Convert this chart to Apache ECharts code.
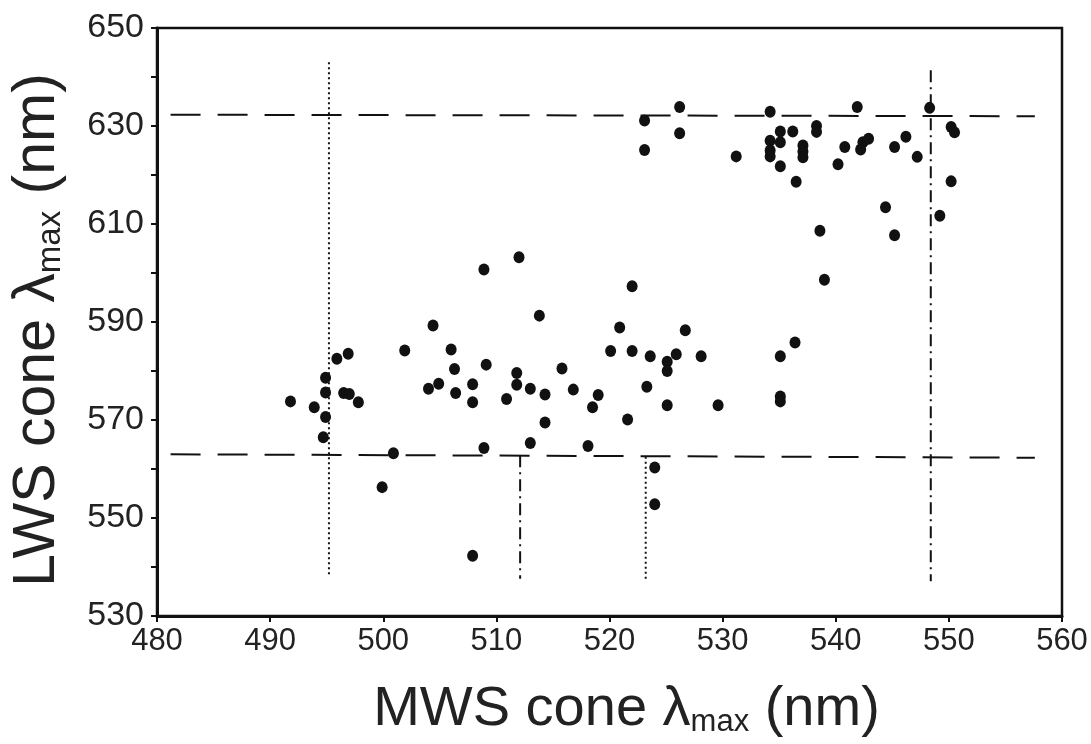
<!DOCTYPE html>
<html>
<head>
<meta charset="utf-8">
<script src="https://cdn.jsdelivr.net/npm/echarts@6/dist/echarts.min.js"></script>
<style>html,body{margin:0;padding:0;background:#fff;}#c{width:1091px;height:744px;}</style>
</head>
<body>
<div id="c"></div>
<script>
// MWS cone lambda max (x) and LWS cone lambda max (y), nm
const mwsValues = [491.8,493.9,494.9,494.9,494.9,494.7,495.9,496.9,496.5,497.0,497.8,499.9,500.9,501.9,504.4,504.0,504.9,506.0,506.3,506.4,507.9,507.9,508.9,509.1,508.9,507.9,510.9,511.8,511.8,512.0,513.0,513.0,513.8,514.3,514.3,515.8,516.8,518.1,518.5,519.0,520.1,520.9,521.6,522.0,522.0,523.1,523.1,523.6,523.3,524.0,524.0,525.1,525.1,525.1,525.9,526.2,526.2,526.7,528.1,529.6,531.2,534.2,534.2,534.2,534.2,535.1,535.1,535.1,535.1,535.1,535.1,536.2,536.5,536.4,537.1,537.1,537.1,538.3,538.3,538.6,539.0,540.2,540.8,541.9,542.2,542.4,542.9,544.4,545.2,545.2,546.2,547.2,548.3,549.2,550.2,550.5,550.2];
const lwsValues = [573.8,572.6,578.6,575.6,570.6,566.5,582.5,583.5,575.5,575.3,573.6,556.3,563.2,584.2,589.3,576.4,577.4,584.4,580.4,575.5,577.3,573.6,600.7,581.3,564.3,542.3,574.3,579.6,577.2,603.2,576.4,565.3,591.3,575.2,569.5,580.5,576.2,564.7,572.6,575.1,584.1,588.9,570.1,597.3,584.1,631.1,625.1,583.0,576.8,560.3,552.8,581.9,580.0,573.0,583.4,633.9,628.5,588.3,583.0,573.0,623.8,632.9,627.0,625.0,623.8,628.9,626.7,621.8,583.0,574.8,573.8,628.9,618.6,585.8,626.0,624.8,623.6,630.0,628.8,608.6,598.6,622.2,625.7,633.9,625.2,626.7,627.4,613.4,625.7,607.7,627.8,623.7,633.7,611.7,629.8,628.7,618.7];

// reference lines (data coordinates)
const hLineUpper = [[481.2, 632.3], [557.6, 632.0]];
const hLineLower = [[481.2, 563.0], [557.6, 562.3]];
const vLine495 = [[495.2, 643.0], [495.2, 537.9]];
const vLine512 = [[512.1, 562.8], [512.1, 537.6]];
const vLine523 = [[523.2, 562.5], [523.2, 537.6]];
const vLine548 = [[548.4, 641.4], [548.4, 537.1]];

const xTicks = {min: 480, max: 560, interval: 10};
const yTicks = {min: 530, max: 650, interval: 10, labelStep: 20};

const points = mwsValues.map((x, i) => [x, lwsValues[i]]);

function refLine(data, type, w) {
  return {
    type: 'line', data: data, symbol: 'none', silent: true, z: 1,
    lineStyle: {color: '#111', width: w, type: type}
  };
}

const chart = echarts.init(document.getElementById('c'), null, {renderer: 'canvas'});
const fam = '"Liberation Sans", Arial, sans-serif';
chart.setOption({
  backgroundColor: '#fff',
  animation: false,
  grid: {left: 155, right: 29, top: 28, bottom: 128, show: true, borderColor: '#111', borderWidth: 2.5, backgroundColor: 'transparent'},
  xAxis: {
    type: 'value', min: xTicks.min, max: xTicks.max, interval: xTicks.interval,
    axisLine: {show: true, lineStyle: {color: '#111', width: 3}},
    axisTick: {show: true, inside: false, length: 6, lineStyle: {color: '#111', width: 2}},
    axisLabel: {color: '#222', fontSize: 31, fontFamily: fam, margin: 10},
    splitLine: {show: false},
    name: '{a|MWS cone λ}{b|max}{a| (nm)}',
    nameLocation: 'middle', nameGap: 66,
    nameTextStyle: {padding: [0, 0, 0, 34], rich: {
      a: {fontSize: 56, fontFamily: fam, color: '#222'},
      b: {fontSize: 31, fontFamily: fam, color: '#222', verticalAlign: 'bottom'}
    }}
  },
  yAxis: {
    type: 'value', min: yTicks.min, max: yTicks.max, interval: yTicks.interval,
    axisLine: {show: true, lineStyle: {color: '#111', width: 3}},
    axisTick: {show: true, inside: false, length: 6, lineStyle: {color: '#111', width: 2}},
    axisLabel: {color: '#222', fontSize: 34, fontFamily: fam, margin: 13,
      formatter: function (v) { return ((v - yTicks.min) % yTicks.labelStep === 0) ? String(v) : ''; }},
    splitLine: {show: false},
    name: '{a|LWS cone λ}{b|max}{a| (nm)}',
    nameLocation: 'middle', nameGap: 90, nameRotate: 90,
    nameTextStyle: {padding: [0, 16, 0, 0], rich: {
      a: {fontSize: 59, fontFamily: fam, color: '#222'},
      b: {fontSize: 33, fontFamily: fam, color: '#222', verticalAlign: 'bottom'}
    }}
  },
  series: [
    refLine(hLineUpper, [30, 17], 2),
    refLine(hLineLower, [30, 17], 2),
    refLine(vLine495, [2, 3], 2),
    refLine(vLine512, [12, 5, 2, 5], 2),
    refLine(vLine523, [2, 3], 2),
    refLine(vLine548, [12, 5, 2, 5], 2),
    {
      type: 'scatter', data: points, symbol: 'circle', symbolSize: [11, 12], z: 3,
      itemStyle: {color: '#111', opacity: 1}
    }
  ]
});
</script>
</body>
</html>
